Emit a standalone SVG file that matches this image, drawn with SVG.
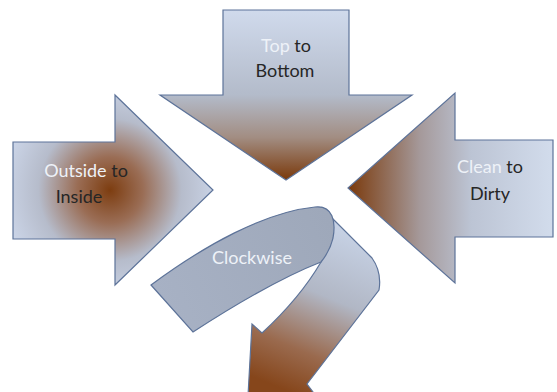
<svg xmlns="http://www.w3.org/2000/svg" width="557" height="392" viewBox="0 0 557 392">
  <defs>
    <linearGradient id="gTop" gradientUnits="userSpaceOnUse" x1="0" y1="10" x2="0" y2="180">
      <stop offset="0" stop-color="#d0daec"/>
      <stop offset="0.5" stop-color="#b3bbca"/>
      <stop offset="0.75" stop-color="#a28d82"/>
      <stop offset="1" stop-color="#7a390b"/>
    </linearGradient>
    <radialGradient id="gLeft" gradientUnits="userSpaceOnUse" cx="110" cy="190" r="110">
      <stop offset="0" stop-color="#7d3d10"/>
      <stop offset="0.3" stop-color="#9a6d55"/>
      <stop offset="0.65" stop-color="#b6bccb"/>
      <stop offset="1" stop-color="#ccd6e9"/>
    </radialGradient>
    <linearGradient id="gRight" gradientUnits="userSpaceOnUse" x1="348" y1="0" x2="553" y2="0">
      <stop offset="0" stop-color="#7a390b"/>
      <stop offset="0.35" stop-color="#a5999a"/>
      <stop offset="0.6" stop-color="#bcc4d4"/>
      <stop offset="1" stop-color="#d2dcec"/>
    </linearGradient>
    <linearGradient id="gBand" gradientUnits="userSpaceOnUse" x1="160" y1="300" x2="330" y2="220">
      <stop offset="0" stop-color="#a7b1c4"/>
      <stop offset="1" stop-color="#9ea8ba"/>
    </linearGradient>
    <linearGradient id="gDown" gradientUnits="userSpaceOnUse" x1="355" y1="235" x2="290" y2="392">
      <stop offset="0" stop-color="#c6d1e4"/>
      <stop offset="0.4" stop-color="#b1b7c5"/>
      <stop offset="0.75" stop-color="#9a6a4e"/>
      <stop offset="1" stop-color="#86461b"/>
    </linearGradient>
  </defs>
  <style>
    .shape { stroke: #5d7399; stroke-width: 1.2; stroke-linejoin: miter; }
    .t { font-family: Lato, "Open Sans", "Liberation Sans", sans-serif; font-size: 18px; }
    .light { fill: #eef2f8; }
    .dark { fill: #262626; }
  </style>
  <rect width="557" height="392" fill="#ffffff"/>

  <g id="top">
    <path class="shape" fill="url(#gTop)" d="M223,10 L349,10 L349,95 L412,95 L286,180 L160,95 L223,95 Z"/>
    <text class="t" x="286" y="52" text-anchor="middle"><tspan class="light">Top</tspan><tspan class="dark"> to</tspan></text>
    <text class="t dark" x="285" y="77" text-anchor="middle">Bottom</text>
  </g>

  <g id="left">
    <path class="shape" fill="url(#gLeft)" d="M13,142 L115,142 L115,95 L213,190 L115,285 L115,239 L13,239 Z"/>
    <text class="t" x="86" y="177" text-anchor="middle"><tspan class="light">Outside</tspan><tspan class="dark"> to</tspan></text>
    <text class="t dark" x="79" y="203" text-anchor="middle">Inside</text>
  </g>

  <g id="right">
    <path class="shape" fill="url(#gRight)" d="M553,140 L455,140 L455,93 L348,188 L455,283 L455,237 L553,237 Z"/>
    <text class="t" x="490" y="173" text-anchor="middle"><tspan class="light">Clean</tspan><tspan class="dark"> to</tspan></text>
    <text class="t dark" x="490" y="200" text-anchor="middle">Dirty</text>
  </g>

  <g id="clockwise">
    <path class="shape" fill="url(#gDown)" d="M322,208 L372,258 Q382,272 379,290 L307,384 L316,396 L248,396 L252,324 L262,333 Q300,298 321,262 Z"/>
    <path class="shape" fill="url(#gBand)" d="M151,285 C205,245 265,212 315,207 C333,205 336,222 333,238 Q330,251 321,262 C280,278 230,308 193,332 Z"/>
    <text class="t light" x="252" y="264" text-anchor="middle">Clockwise</text>
  </g>
</svg>
